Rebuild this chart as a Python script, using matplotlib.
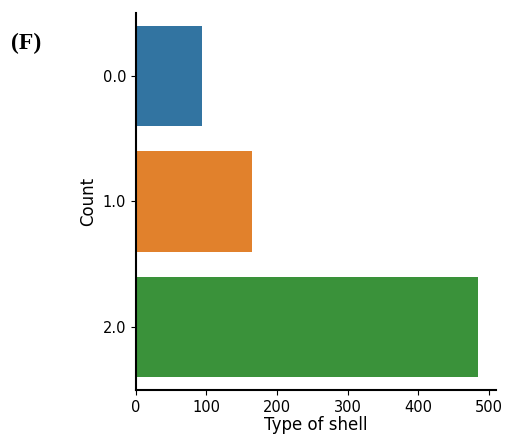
import matplotlib
matplotlib.use("Agg")
import matplotlib.pyplot as plt

categories = ["0.0", "1.0", "2.0"]
counts = [93, 165, 485]
colors = ["#3274a1", "#e1812c", "#3a923a"]

fig = plt.figure(figsize=(5.05, 4.38), dpi=100)
ax = fig.add_axes([0.269, 0.110, 0.713, 0.860])

ax.barh(range(len(categories)), counts, height=0.8, color=colors)
ax.set_yticks(range(len(categories)))
ax.set_yticklabels(categories)
ax.set_ylim(2.5, -0.5)
ax.set_xlim(0, 510)
ax.set_xticks([0, 100, 200, 300, 400, 500])
ax.tick_params(labelsize=10.5)

ax.set_xlabel("Type of shell", fontsize=12, labelpad=1)
ax.set_ylabel("Count", fontsize=12)
ax.spines["top"].set_visible(False)
ax.spines["right"].set_visible(False)
ax.spines["left"].set_linewidth(1.5)
ax.spines["bottom"].set_linewidth(1.5)

fig.text(0.022, 0.888, "(F)", fontsize=17, fontweight="bold", family="Liberation Serif")

fig.savefig("out.png", dpi=100)
